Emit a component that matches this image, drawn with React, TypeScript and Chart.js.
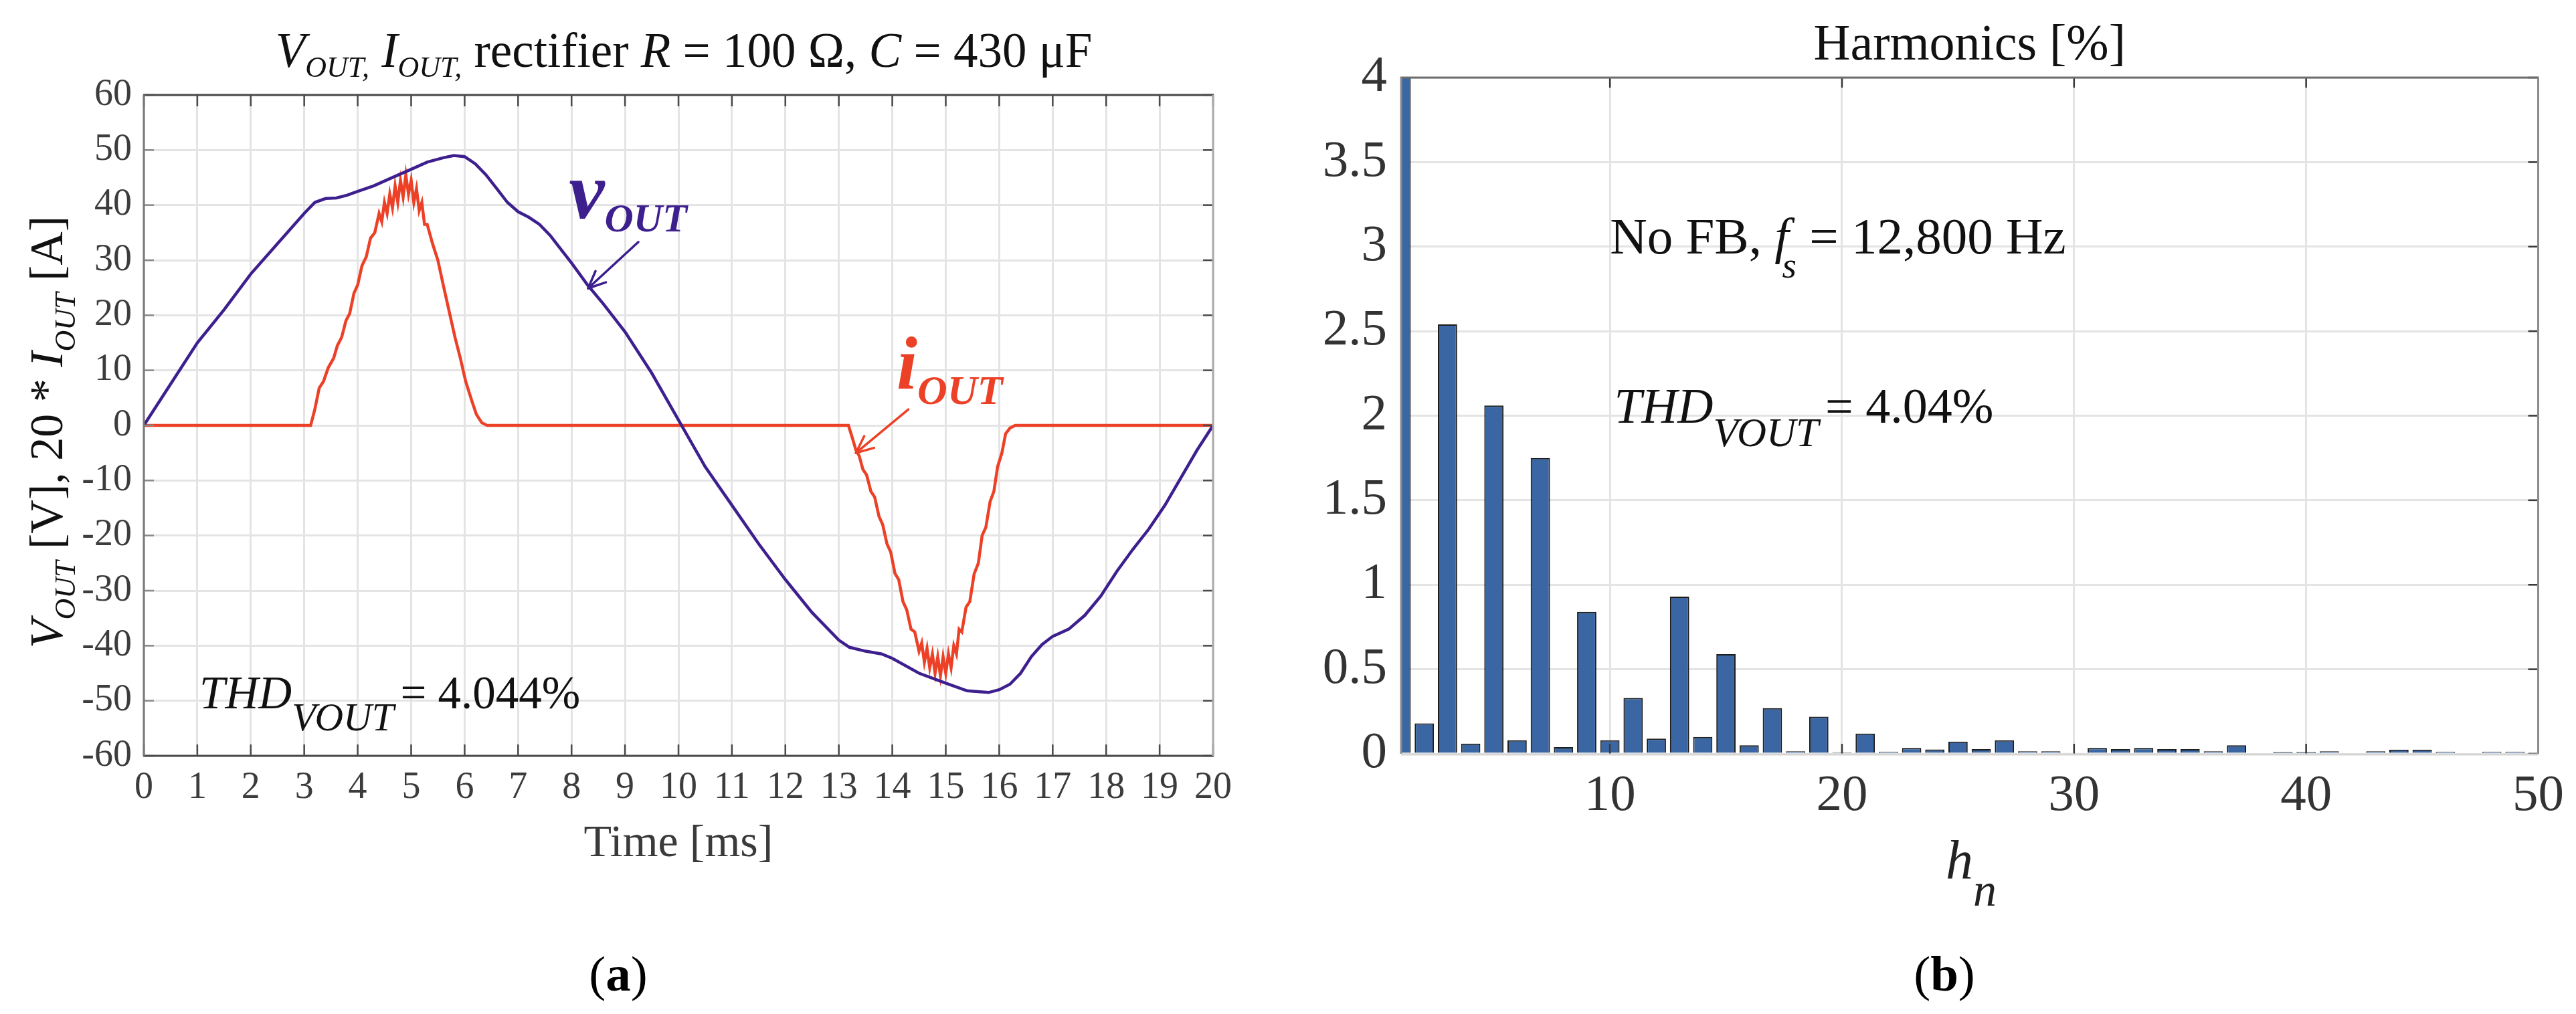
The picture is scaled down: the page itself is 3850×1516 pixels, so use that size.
import React, { useEffect, useRef } from 'react';
import { Chart, registerables } from 'chart.js';

Chart.register(...registerables);

const SERIF = '"Liberation Serif", "Times New Roman", Times, serif';
const PURPLE = '#3d1f8e';
const RED = '#ec4127';
const BAR_BLUE = '#3a66a3';
const GRID = '#e4e4e4';

// ---------- (a) time-domain waveforms ----------
const timeTicks = [0, 1, 2, 3, 4, 5, 6, 7, 8, 9, 10, 11, 12, 13, 14, 15, 16, 17, 18, 19, 20];
const voltTicks = [-60, -50, -40, -30, -20, -10, 0, 10, 20, 30, 40, 50, 60];

const voutTime = [
  0, 0.5, 1, 1.5, 2, 2.5, 3, 3.2, 3.4, 3.6, 3.8, 4, 4.3, 4.6, 5, 5.3, 5.6, 5.8, 6.0, 6.2,
  6.4, 6.6, 6.8, 7.0, 7.2, 7.4, 7.6, 7.8, 8, 8.3, 8.6, 9, 9.5, 10, 10.5, 11, 11.5, 12, 12.5, 13,
  13.2, 13.5, 13.8, 14, 14.5, 15, 15.4, 15.8, 16.0, 16.2, 16.4, 16.6, 16.8, 17, 17.3, 17.6, 17.9, 18.2, 18.5, 18.8,
  19.1, 19.4, 19.7, 20,
];
const voutVolt = [
  0, 7.5, 15, 21, 27.5, 33, 38.5, 40.5, 41.2, 41.3, 41.8, 42.5, 43.5, 44.8, 46.5, 47.8, 48.6, 49, 48.8, 47.5,
  45.5, 43, 40.5, 38.8, 37.8, 36.5, 34.5, 32, 29.5, 25.5, 22, 17, 9.5, 1, -7.5, -14.5, -21.5, -28, -34, -39,
  -40.3, -41, -41.5, -42.3, -45, -46.8, -48.2, -48.5, -48, -47, -45, -42, -39.8, -38.3, -37, -34.5, -31, -26.5, -22.5, -18.8,
  -14.5, -9.5, -4.5, 0,
];

const ioutTime = [
  0, 3.12, 3.2, 3.28, 3.36, 3.45, 3.55, 3.62, 3.7, 3.78,
  3.85, 3.93, 4.0, 4.08, 4.16, 4.24, 4.32, 4.4, 4.45, 4.5,
  4.55, 4.6, 4.65, 4.7, 4.75, 4.8, 4.85, 4.9, 4.95, 5.0,
  5.05, 5.1, 5.15, 5.2, 5.25, 5.3, 5.4, 5.5, 5.6, 5.72,
  5.82, 5.92, 6.02, 6.13, 6.22, 6.32, 6.42, 13.18, 13.26, 13.32,
  13.38, 13.45, 13.52, 13.6, 13.67, 13.75, 13.82, 13.9, 13.97, 14.05,
  14.12, 14.2, 14.27, 14.35, 14.42, 14.5, 14.55, 14.6, 14.65, 14.7,
  14.75, 14.8, 14.85, 14.9, 14.95, 15.0, 15.05, 15.1, 15.15, 15.2,
  15.25, 15.3, 15.38, 15.45, 15.53, 15.61, 15.68, 15.75, 15.83, 15.9,
  15.97, 16.05, 16.12, 16.2, 16.3, 20,
];
const ioutScaled = [
  0, 0, 3, 6.8, 8, 10.5, 12.2, 14.5, 16, 19,
  20.3, 24, 25.5, 29, 30.6, 34, 35, 38.5, 37, 40.5,
  38.5, 42, 39.5, 43.5, 40.5, 44.5, 41.5, 45.5, 42, 44.5,
  40.5, 43, 39, 40.5, 36.5, 36.5, 33, 30, 25.5, 20.3,
  16, 12.2, 8, 4.6, 2, 0.5, 0, 0, -2.5, -4.5,
  -5.5, -8, -9, -12, -13, -16.5, -18, -21.5, -23, -26.9,
  -28, -32, -33.5, -37, -37.5, -41, -39.5, -43, -40.5, -44,
  -41.5, -45, -42, -45.5, -42, -45, -41.5, -44, -40, -41.5,
  -37, -37.5, -33, -32, -27, -25, -20, -18.5, -13.8, -12,
  -7.5, -5, -1.5, -0.5, 0, 0,
];

// ---------- (b) harmonic spectrum ----------
const harmonicOrder = [
  1, 2, 3, 4, 5, 6, 7, 8, 9, 10, 11, 12, 13, 14, 15, 16, 17, 18, 19, 20, 21, 22, 23, 24, 25,
  26, 27, 28, 29, 30, 31, 32, 33, 34, 35, 36, 37, 38, 39, 40, 41, 42, 43, 44, 45, 46, 47, 48, 49, 50,
];
const harmonicPct = [
  100, 0.18, 2.54, 0.06, 2.06, 0.08, 1.75, 0.04, 0.84, 0.08, 0.33, 0.09, 0.93, 0.1, 0.59, 0.05, 0.27, 0.015, 0.22, 0.01,
  0.12, 0.013, 0.035, 0.026, 0.072, 0.028, 0.08, 0.015, 0.015, 0.007, 0.035, 0.028, 0.035, 0.028, 0.028, 0.015, 0.05, 0.006,
  0.012, 0.012, 0.015, 0.006, 0.015, 0.025, 0.025, 0.013, 0.006, 0.013, 0.013, 0.008,
];
const orderTicks = [10, 20, 30, 40, 50];
const pctTicks = [0, 0.5, 1, 1.5, 2, 2.5, 3, 3.5, 4];

// ---------- helpers ----------
type Seg = { t: string; size: number; italic?: boolean; bold?: boolean; dy?: number; dx?: number };

function fontOf(s: Seg) {
  return `${s.italic ? 'italic ' : ''}${s.bold ? 'bold ' : ''}${s.size}px ${SERIF}`;
}

function drawRich(ctx: CanvasRenderingContext2D, segs: Seg[], x: number, y: number, align: 'left' | 'center', color: string) {
  ctx.save();
  ctx.fillStyle = color;
  ctx.textBaseline = 'alphabetic';
  ctx.textAlign = 'left';
  const widths = segs.map((s) => {
    ctx.font = fontOf(s);
    return ctx.measureText(s.t).width + (s.dx || 0);
  });
  const total = widths.reduce((a, b) => a + b, 0);
  let cx = align === 'center' ? x - total / 2 : x;
  segs.forEach((s, k) => {
    ctx.font = fontOf(s);
    ctx.fillText(s.t, cx + (s.dx || 0), y + (s.dy || 0));
    cx += widths[k];
  });
  ctx.restore();
}

function seg(ctx: CanvasRenderingContext2D, x1: number, y1: number, x2: number, y2: number) {
  ctx.beginPath();
  ctx.moveTo(x1, y1);
  ctx.lineTo(x2, y2);
  ctx.stroke();
}

function arrow(ctx: CanvasRenderingContext2D, x1: number, y1: number, x2: number, y2: number, color: string) {
  ctx.save();
  ctx.strokeStyle = color;
  ctx.lineWidth = 3.5;
  ctx.lineCap = 'round';
  seg(ctx, x1, y1, x2, y2);
  const a = Math.atan2(y2 - y1, x2 - x1);
  const L = 28;
  seg(ctx, x2, y2, x2 - L * Math.cos(a - 0.42), y2 - L * Math.sin(a - 0.42));
  seg(ctx, x2, y2, x2 - L * Math.cos(a + 0.42), y2 - L * Math.sin(a + 0.42));
  ctx.restore();
}

// ---------- plugins ----------
const frameA = {
  id: 'frameA',
  afterDatasetsDraw(chart: any) {
    const { ctx, chartArea: ca, scales } = chart;
    const xs = scales.x;
    const ys = scales.y;
    ctx.save();
    ctx.lineCap = 'butt';
    ctx.strokeStyle = '#4a4a4a';
    ctx.lineWidth = 2.5;
    timeTicks.forEach((t) => {
      const px = xs.getPixelForValue(t);
      seg(ctx, px, ca.bottom, px, ca.bottom - 17);
      seg(ctx, px, ca.top, px, ca.top + 17);
    });
    voltTicks.forEach((v) => {
      const py = ys.getPixelForValue(v);
      ctx.strokeStyle = '#8a8a8a';
      seg(ctx, ca.left, py, ca.left + 15, py);
      ctx.strokeStyle = '#4a4a4a';
      seg(ctx, ca.right, py, ca.right - 15, py);
    });
    ctx.lineWidth = 3;
    ctx.strokeStyle = '#4a4a4a';
    seg(ctx, ca.left - 1, ca.top, ca.right + 1, ca.top);
    seg(ctx, ca.left - 1, ca.bottom, ca.right + 1, ca.bottom);
    ctx.strokeStyle = '#7a7a7a';
    seg(ctx, ca.left, ca.top, ca.left, ca.bottom);
    ctx.strokeStyle = '#ababab';
    seg(ctx, ca.right, ca.top, ca.right, ca.bottom);
    ctx.restore();
  },
  afterDraw(chart: any) {
    const { ctx, chartArea: ca, scales } = chart;
    const xs = scales.x;
    const ys = scales.y;
    const mid = (ca.left + ca.right) / 2;
    // title
    drawRich(ctx, [
      { t: 'V', size: 73, italic: true },
      { t: 'OUT,', size: 44, italic: true, dy: 15 },
      { t: ' ', size: 73 },
      { t: 'I', size: 73, italic: true },
      { t: 'OUT,', size: 44, italic: true, dy: 15 },
      { t: ' rectifier ', size: 73 },
      { t: 'R', size: 73, italic: true },
      { t: ' = 100 Ω, ', size: 73 },
      { t: 'C', size: 73, italic: true },
      { t: ' = 430 μF', size: 73 },
    ], mid + 8, ca.top - 42, 'center', '#111');
    // y axis title
    ctx.save();
    ctx.translate(93, (ca.top + ca.bottom) / 2 + 10);
    ctx.rotate(-Math.PI / 2);
    drawRich(ctx, [
      { t: 'V', size: 70, italic: true },
      { t: 'OUT', size: 44, italic: true, dy: 19 },
      { t: ' [V], 20 * ', size: 70 },
      { t: 'I', size: 70, italic: true },
      { t: 'OUT', size: 44, italic: true, dy: 19 },
      { t: ' [A]', size: 70 },
    ], 0, 0, 'center', '#111');
    ctx.restore();
    // x axis title
    drawRich(ctx, [{ t: 'Time [ms]', size: 68 }], mid, ca.bottom + 150, 'center', '#3a3a3a');
    // panel label
    drawRich(ctx, [
      { t: '(', size: 75 },
      { t: 'a', size: 75, bold: true },
      { t: ')', size: 75 },
    ], 924, 1481, 'center', '#000');
    // THD
    drawRich(ctx, [
      { t: 'THD', size: 69, italic: true },
      { t: 'VOUT', size: 59, italic: true, dy: 33 },
      { t: '= 4.044%', size: 69, dx: 10 },
    ], xs.getPixelForValue(1.04), ys.getPixelForValue(-51.4), 'left', '#111');
    // vOUT annotation
    drawRich(ctx, [
      { t: 'v', size: 120, italic: true, bold: true },
      { t: 'OUT', size: 60, italic: true, bold: true, dy: 20 },
    ], xs.getPixelForValue(7.95), ys.getPixelForValue(37.65), 'left', PURPLE);
    arrow(ctx, xs.getPixelForValue(9.25), ys.getPixelForValue(33.3), xs.getPixelForValue(8.31), ys.getPixelForValue(24.9), PURPLE);
    // iOUT annotation
    drawRich(ctx, [
      { t: 'i', size: 112, italic: true, bold: true },
      { t: 'OUT', size: 62, italic: true, bold: true, dy: 23 },
    ], xs.getPixelForValue(14.08), ys.getPixelForValue(6.68), 'left', RED);
    arrow(ctx, xs.getPixelForValue(14.3), ys.getPixelForValue(2.9), xs.getPixelForValue(13.32), ys.getPixelForValue(-5.0), RED);
  },
};

const frameB = {
  id: 'frameB',
  afterDatasetsDraw(chart: any) {
    const { ctx, chartArea: ca, scales } = chart;
    const xs = scales.x;
    const ys = scales.y;
    ctx.save();
    ctx.lineWidth = 2.5;
    ctx.strokeStyle = '#3a3a3a';
    orderTicks.forEach((h) => {
      const px = xs.getPixelForValue(h);
      seg(ctx, px, ca.bottom, px, ca.bottom - 15);
      seg(ctx, px, ca.top, px, ca.top + 15);
    });
    pctTicks.forEach((v) => {
      const py = ys.getPixelForValue(v);
      seg(ctx, ca.right, py, ca.right - 15, py);
    });
    ctx.lineWidth = 3;
    ctx.strokeStyle = '#6e6e6e';
    seg(ctx, ca.left - 1, ca.top, ca.right + 1, ca.top);
    ctx.strokeStyle = '#8c8c8c';
    seg(ctx, ca.left, ca.top, ca.left, ca.bottom);
    seg(ctx, ca.right, ca.top, ca.right, ca.bottom);
    ctx.strokeStyle = '#d6d6d6';
    seg(ctx, ca.left, ca.bottom + 1, ca.right, ca.bottom + 1);
    ctx.restore();
  },
  afterDraw(chart: any) {
    const { ctx, chartArea: ca, scales } = chart;
    const xs = scales.x;
    const ys = scales.y;
    const mid = (ca.left + ca.right) / 2;
    drawRich(ctx, [{ t: 'Harmonics [%]', size: 76 }], mid, ca.top - 27, 'center', '#111');
    drawRich(ctx, [
      { t: 'No FB, ', size: 77 },
      { t: 'f', size: 77, italic: true },
      { t: 's', size: 55, italic: true, dy: 36, dx: -10 },
      { t: ' = 12,800 Hz', size: 77 },
    ], xs.getPixelForValue(10.0), ys.getPixelForValue(2.96), 'left', '#111');
    drawRich(ctx, [
      { t: 'THD', size: 74, italic: true },
      { t: 'VOUT', size: 61, italic: true, dy: 35 },
      { t: '= 4.04%', size: 74, dx: 10 },
    ], xs.getPixelForValue(10.18), ys.getPixelForValue(1.96), 'left', '#111');
    drawRich(ctx, [
      { t: 'h', size: 82, italic: true },
      { t: 'n', size: 70, italic: true, dy: 41 },
    ], 983, 1313, 'left', '#222');
    drawRich(ctx, [
      { t: '(', size: 75 },
      { t: 'b', size: 75, bold: true },
      { t: ')', size: 75 },
    ], 981, 1481, 'center', '#000');
  },
};

function configA(): any {
  return {
    type: 'line',
    data: {
      datasets: [
        {
          label: 'vOUT',
          data: voutTime.map((t, i) => ({ x: t, y: voutVolt[i] })),
          borderColor: PURPLE,
          borderWidth: 4.5,
          pointRadius: 0,
          tension: 0,
        },
        {
          label: 'iOUT',
          data: ioutTime.map((t, i) => ({ x: t, y: ioutScaled[i] })),
          borderColor: RED,
          borderWidth: 4.5,
          pointRadius: 0,
          tension: 0,
        },
      ],
    },
    options: {
      responsive: false,
      maintainAspectRatio: false,
      devicePixelRatio: 1,
      animation: false,
      layout: { padding: { left: 0, top: 142, right: 112, bottom: 0 } },
      plugins: { legend: { display: false }, tooltip: { enabled: false }, title: { display: false } },
      scales: {
        x: {
          type: 'linear',
          min: 0,
          max: 20,
          afterBuildTicks: (s: any) => { s.ticks = timeTicks.map((v) => ({ value: v })); },
          afterFit: (s: any) => { s.height = 386; },
          ticks: { font: { family: SERIF, size: 56 }, color: '#3c3c3c', padding: 15, maxRotation: 0, autoSkip: false, callback: (v: any) => String(v) },
          grid: { color: GRID, lineWidth: 3, drawTicks: false },
          border: { display: false },
        },
        y: {
          type: 'linear',
          min: -60,
          max: 60,
          afterBuildTicks: (s: any) => { s.ticks = voltTicks.map((v) => ({ value: v })); },
          afterFit: (s: any) => { s.width = 215; },
          ticks: { font: { family: SERIF, size: 56 }, color: '#3c3c3c', padding: 18, autoSkip: false, callback: (v: any) => String(v) },
          grid: { color: GRID, lineWidth: 3, drawTicks: false },
          border: { display: false },
        },
      },
    },
    plugins: [frameA],
  };
}

function configB(): any {
  return {
    type: 'bar',
    data: {
      datasets: [
        {
          label: 'Harmonics',
          data: harmonicOrder.map((h, i) => ({ x: h, y: harmonicPct[i] })),
          backgroundColor: BAR_BLUE,
          borderColor: '#1c1c1c',
          borderWidth: 2,
          barPercentage: 0.83,
          categoryPercentage: 1,
          clip: 0,
        },
      ],
    },
    options: {
      responsive: false,
      maintainAspectRatio: false,
      devicePixelRatio: 1,
      animation: false,
      layout: { padding: { left: 0, top: 116, right: 53, bottom: 0 } },
      plugins: { legend: { display: false }, tooltip: { enabled: false }, title: { display: false } },
      scales: {
        x: {
          type: 'linear',
          min: 1,
          max: 50,
          offset: false,
          afterBuildTicks: (s: any) => { s.ticks = orderTicks.map((v) => ({ value: v })); },
          afterFit: (s: any) => { s.height = 389; },
          ticks: { font: { family: SERIF, size: 77 }, color: '#333', padding: 18, maxRotation: 0, autoSkip: false, callback: (v: any) => String(v) },
          grid: { color: GRID, lineWidth: 3, drawTicks: false, offset: false },
          border: { display: false },
        },
        y: {
          type: 'linear',
          min: 0,
          max: 4,
          afterBuildTicks: (s: any) => { s.ticks = pctTicks.map((v) => ({ value: v })); },
          afterFit: (s: any) => { s.width = 169; },
          ticks: { font: { family: SERIF, size: 77 }, color: '#333', padding: 21, autoSkip: false, callback: (v: any) => String(v) },
          grid: { color: GRID, lineWidth: 3, drawTicks: false },
          border: { display: false },
        },
      },
    },
    plugins: [frameB],
  };
}

export default function App() {
  const aRef = useRef<HTMLCanvasElement>(null);
  const bRef = useRef<HTMLCanvasElement>(null);
  useEffect(() => {
    const a = new Chart(aRef.current as HTMLCanvasElement, configA());
    const b = new Chart(bRef.current as HTMLCanvasElement, configB());
    return () => {
      a.destroy();
      b.destroy();
    };
  }, []);
  return (
    <div style={{ position: 'absolute', left: 0, top: 0, width: 3850, height: 1516, background: '#ffffff' }}>
      <canvas ref={aRef} width={1925} height={1516} style={{ position: 'absolute', left: 0, top: 0, width: 1925, height: 1516 }} />
      <canvas ref={bRef} width={1925} height={1516} style={{ position: 'absolute', left: 1925, top: 0, width: 1925, height: 1516 }} />
    </div>
  );
}
